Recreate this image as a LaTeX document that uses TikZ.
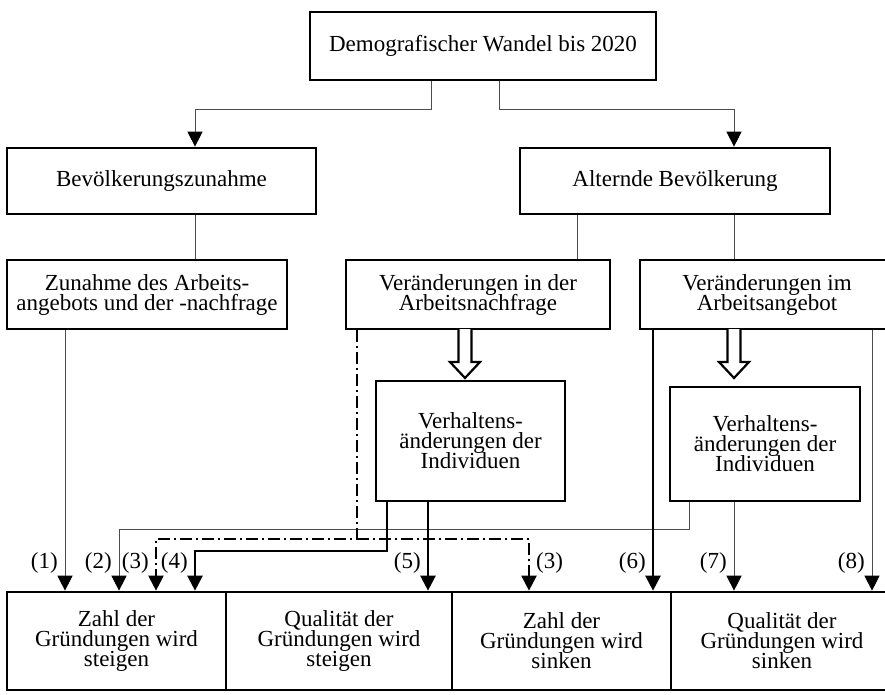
\documentclass[tikz,border=0pt]{standalone}
\usepackage{fontspec}
\setmainfont{Liberation Serif}
\usetikzlibrary{arrows.meta}
\begin{document}
\lineskiplimit=-100pt
\begin{tikzpicture}[x=1pt,y=-1pt,
  txt/.style={font=\fontsize{23}{20}\selectfont},
  box/.style={draw, line width=2.7pt, align=center, inner sep=0pt, txt},
  lab/.style={inner sep=0pt, font=\fontsize{23}{20}\selectfont},
  thinl/.style={line width=1pt, draw=black!70},
  thickl/.style={line width=2.4pt},
  dashdot/.style={line width=2.2pt, dash pattern=on 12pt off 4pt on 2pt off 4pt},
  arr/.style={-{Triangle[width=15pt,length=15pt,color=black]}},
  hollow/.style={line width=2.2pt, fill=white, line join=miter}]
\useasboundingbox (0,0) rectangle (885,694);
\clip (0,0) rectangle (885,694);

% column and level coordinates
\coordinate (cA) at (65,0);
\coordinate (cB) at (119,0);
\coordinate (cC) at (156,0);
\coordinate (cD) at (195,0);
\coordinate (cE) at (357,0);
\coordinate (cF) at (387,0);
\coordinate (cG) at (428,0);
\coordinate (cH) at (431,0);
\coordinate (cJ) at (499,0);
\coordinate (cK) at (529,0);
\coordinate (cL) at (577,0);
\coordinate (cM) at (653,0);
\coordinate (cN) at (689,0);
\coordinate (cO) at (734,0);
\coordinate (cP) at (872,0);
\coordinate (yT) at (0,529);
\coordinate (yD) at (0,539);
\coordinate (yK) at (0,551);
\coordinate (yL) at (0,568);

% nodes
\node[box, minimum width=346pt, minimum height=68pt] (top) at (483,46) {Demografischer Wandel bis 2020};
\node[box, minimum width=309pt, minimum height=66pt] (bev) at (161.5,181) {Bevölkerungszunahme};
\node[box, minimum width=310pt, minimum height=66pt] (alt) at (675,181) {Alternde Bevölkerung};
\node[box, minimum width=280pt, minimum height=69pt] (zun) at (147,294.5) {Zunahme des Arbeits-\\angebots und der -nachfrage};
\node[box, minimum width=264pt, minimum height=69pt] (nach) at (478,294.5) {Veränderungen in der\\Arbeitsnachfrage};
\node[box, minimum width=254pt, minimum height=69pt] (ang) at (767,294.5) {Veränderungen im\\Arbeitsangebot};
\node[box, minimum width=189pt, minimum height=120pt] (verh1) at (470.5,441) {Verhaltens-\\änderungen der\\Individuen};
\node[box, minimum width=190pt, minimum height=114pt] (verh2) at (765,444) {Verhaltens-\\änderungen der\\Individuen};
\node[box, minimum width=219pt, minimum height=98pt] (b1) at (116.5,641) {Zahl der\\Gründungen wird\\steigen};
\node[box, minimum width=226pt, minimum height=98pt] (b2) at (339,641) {Qualität der\\Gründungen wird\\steigen};
\node[box, minimum width=219pt, minimum height=98pt] (b3) at (561.5,641) {Zahl der\\Gründungen wird\\sinken};
\node[box, minimum width=222pt, minimum height=98pt] (b4) at (782,641) {Qualität der\\Gründungen wird\\sinken};

% upper connectors
\draw[thinl, arr] (top.south -| cH) -- ++(0,28) -| (bev.north -| cD);
\draw[thinl, arr] (top.south -| cJ) -- ++(0,28) -| (alt.north -| cO);
\draw[thinl] (bev.south -| cD) -- (zun.north -| cD);
\draw[thinl] (alt.south -| cL) -- (nach.north -| cL);
\draw[thinl] (alt.south -| cO) -- (ang.north -| cO);

% hollow arrows
\draw[hollow] (458.5,329) -- (458.5,362) -- (450,362) -- (465,378) -- (480,362) -- (471.5,362) -- (471.5,329);
\draw[hollow] (727.5,329) -- (727.5,362) -- (719,362) -- (734,378) -- (749,362) -- (740.5,362) -- (740.5,329);

% lower connectors
\draw[thinl, arr] (zun.south -| cA) -- (b1.north -| cA);
\draw[thinl, arr] (verh2.south -| cN) |- (yT -| cB) -- (b1.north -| cB);
\draw[dashdot, arr] (nach.south -| cE) |- (yD -| cC) -- (b1.north -| cC);
\draw[dashdot, arr] (yD -| cE) -| (b3.north -| cK);
\draw[thickl, arr] (verh1.south -| cF) |- (yK -| cD) -- (b1.north -| cD);
\draw[thickl, arr] (verh1.south -| cG) -- (b2.north -| cG);
\draw[thickl, arr] (ang.south -| cM) -- (b3.north -| cM);
\draw[thinl, arr] (verh2.south -| cO) -- (b4.north -| cO);
\draw[thinl, arr] (ang.south -| cP) -- (b4.north -| cP);

% labels
\node[lab, anchor=base east, xshift=-7pt] (l1) at (yL -| cA) {(1)};
\node[lab, anchor=base east, xshift=-7pt] (l2) at (yL -| cB) {(2)};
\node[lab, anchor=base east, xshift=-7pt] (l3) at (yL -| cC) {(3)};
\node[lab, anchor=base east, xshift=-7pt] (l4) at (yL -| cD) {(4)};
\node[lab, anchor=base east, xshift=-7pt] (l5) at (yL -| cG) {(5)};
\node[lab, anchor=base west, xshift=7pt] (l3b) at (yL -| cK) {(3)};
\node[lab, anchor=base east, xshift=-7pt] (l6) at (yL -| cM) {(6)};
\node[lab, anchor=base east, xshift=-7pt] (l7) at (yL -| cO) {(7)};
\node[lab, anchor=base east, xshift=-7pt] (l8) at (yL -| cP) {(8)};
\end{tikzpicture}
\end{document}
